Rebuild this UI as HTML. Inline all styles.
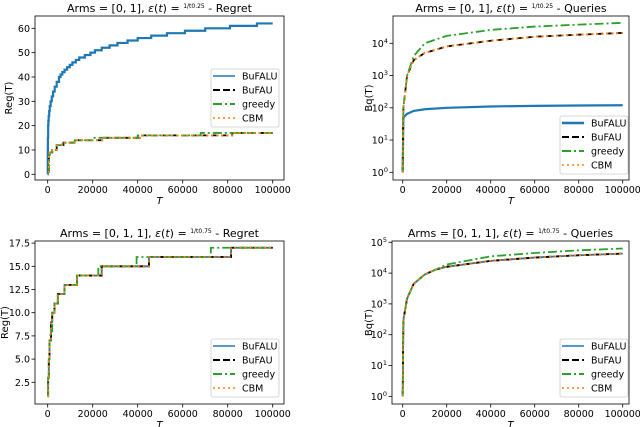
<!DOCTYPE html>
<html><head><meta charset="utf-8"><style>
html,body{margin:0;padding:0;background:#fff}
svg{display:block;font-family:"DejaVu Sans","Liberation Sans",sans-serif}
</style></head><body>
<svg id="fig" width="640" height="427" viewBox="0 0 640 427" xmlns="http://www.w3.org/2000/svg"></svg>
<script>
// ---- Data ----
// Chart 1: Arms=[0,1], regret
const c1_T_bufalu = [0,30,80,200,300,450,650,900,1300,1800,2400,3100,4000,5000,5700,6500,7500,8600,9800,11000,12500,14000,16500,19000,21000,24000,27500,31000,35500,40000,46000,53000,61000,70000,81000,93000,100000];
const c1_bufalu   = [0,10,15,20,22,24,26,28,30,32,34,36,38,40,41,42,43,44,45,46,47,48,49,50,51,52,53,54,55,56,57,58,59,60,61,62,62];
const c1_T_other  = [0,500,1000,2000,4000,7000,13000,25000,42000,82000,100000];
const c1_other    = [1,8,9,10,12,13,14,15,16,17,17];
const c1_T_greedy = [0,500,1000,2000,4000,6500,12000,20000,40000,68000,100000];
const c1_greedy   = [1,8,9,10,12,13,14,15,16,17,17];
// Chart 2: Arms=[0,1], queries (log)
const c2_T        = [0,300,2000,5000,10000,20000,40000,60000,80000,100000];
const c2_bufalu   = [1,50,65,80,90,100,110,115,118,120];
const c2_bufau    = [1,100,1000,3000,5000,8000,12000,16000,18500,21000];
const c2_greedy   = [1,100,1000,4000,10000,17000,26000,33000,38000,43000];
// Chart 3: Arms=[0,1,1], regret
const c3_T_other  = [0,200,500,800,1500,2000,3000,4500,7500,13000,24000,45000,81500,100000];
const c3_other    = [1,3,5,7,9,10,11,12,13,14,15,16,17,17];
const c3_T_greedy = [0,200,500,800,1200,2000,3000,4500,7500,13000,22500,39500,72500,100000];
const c3_greedy   = [1,3,5,7,8,10,11,12,13,14,15,16,17,17];
// Chart 4: Arms=[0,1,1], queries (log)
const c4_T        = [0,300,2000,5000,10000,15000,20000,40000,60000,80000,100000];
const c4_bufau    = [1,300,1500,4500,9000,13000,16000,25000,32000,38000,43000];
const c4_greedy   = [1,300,1500,4500,9000,13000,19000,35000,45000,55000,63000];
const xTicks = [0,20000,40000,60000,80000,100000];

const NS="http://www.w3.org/2000/svg";
const fig=document.getElementById('fig');
function mk(tag,attrs,parent){const e=document.createElementNS(NS,tag);for(const k in attrs)e.setAttribute(k,attrs[k]);(parent||fig).appendChild(e);return e;}
const COL={bufalu:'#1f77b4',bufau:'#000',greedy:'#2ca02c',cbm:'#ff7f0e'};
const DASH={bufalu:'',bufau:'7,3',greedy:'9,3,2,3',cbm:'2,3'};

function chart(c){
  const g=mk('g',{});
  
  
  const xs=v=>c.x0+(v/100000)*(c.x1-c.x0);
  const ys=c.log?(v=>c.yb-Math.log10(v)*c.dec):(v=>c.yb-(v-c.ymin)*c.ppu);
  xTicks.forEach(t=>{const x=xs(t);mk('line',{x1:x,x2:x,y1:c.bottom,y2:c.bottom+3.5,stroke:'#000','stroke-width':0.8},g);
    const tx=mk('text',{x:x,y:c.bottom+13,'font-size':9.5,'text-anchor':'middle'},g);tx.textContent=t;
    });
  c.yTicks.forEach(t=>{const y=ys(t);mk('line',{x1:c.left-3.5,x2:c.left,y1:y,y2:y,stroke:'#000','stroke-width':0.8},g);
    const tx=mk('text',{x:c.left-5,y:y+3.5,'font-size':9.5,'text-anchor':'end'},g);
    if(c.log){tx.textContent='10';const s=mk('tspan',{'font-size':6.5,dy:-4},tx);s.textContent=Math.round(Math.log10(t));}
    else tx.textContent=c.fmt?t.toFixed(1):t;
    });
  c.series.forEach(s=>{
    let d='';
    for(let i=0;i<s.T.length;i++){const x=xs(s.T[i]),y=ys(s.v[i]);
      if(i==0)d+='M'+x+','+y;else if(c.step){d+='H'+x+'V'+y;}else d+='L'+x+','+y;}
    const p=mk('path',{d:d,fill:'none',stroke:COL[s.k],'stroke-width':s.w||1.8,'stroke-dasharray':DASH[s.k]},g);
    
  });
  const f=mk('rect',{x:c.left,y:c.top,width:c.right-c.left,height:c.bottom-c.top,fill:'none',stroke:'#000','stroke-width':0.8},g);
  
  const tt=mk('text',{x:(c.left+c.right)/2,y:c.top-4,'font-size':11,'text-anchor':'middle'},g);
  
  tt.textContent=c.title1+' ';
  const eps=mk('tspan',{'font-style':'italic'},tt);eps.textContent='ε';
  const r=mk('tspan',{},tt);r.textContent='(';const tv=mk('tspan',{'font-style':'italic'},tt);tv.textContent='t';
  const r2=mk('tspan',{},tt);r2.textContent=') = ';
  const fr=mk('tspan',{'font-size':6,dy:-4},tt);fr.textContent='1/t'+c.pow;
  const r3=mk('tspan',{dy:4},tt);r3.textContent=' - '+c.title2;
  const xl=mk('text',{x:(c.left+c.right)/2,y:c.bottom+24,'font-size':10,'font-style':'italic','text-anchor':'middle'},g);
  xl.textContent='T';
  const yl=mk('text',{x:0,y:0,'font-size':10,'text-anchor':'middle',transform:`translate(${c.ylx},${(c.top+c.bottom)/2}) rotate(-90)`},g);
  yl.textContent=c.ylab;
  const lg=mk('g',{},g);
  mk('rect',{x:c.lx,y:c.ly,width:68,height:58,rx:2,fill:'#fff',stroke:'#ccc','stroke-width':0.8},lg);
  const names=[['bufalu','BuFALU'],['bufau','BuFAU'],['greedy','greedy'],['cbm','CBM']];
  names.forEach((n,i)=>{const y=c.ly+7+i*14;
    const ln=mk('line',{x1:c.lx+2,x2:c.lx+24,y1:y,y2:y,stroke:COL[n[0]],'stroke-width':c.lw[i],'stroke-dasharray':DASH[n[0]]},lg);
    
    const t=mk('text',{x:c.lx+31,y:y+3.5,'font-size':9.5},lg);t.textContent=n[1];
    });
}

chart({name:'chart-regret-01',left:35,right:284,top:16,bottom:180,x0:47.7,x1:272.7,yb:174.3,ymin:0,ppu:2.433,
  yTicks:[0,10,20,30,40,50,60],step:true,title1:'Arms = [0, 1],',pow:'0.25',title2:'Regret',ylab:'Reg(T)',ylx:12,
  lx:211,ly:69,lw:[1.5,2,2,1.5],
  series:[{k:'bufalu',T:c1_T_bufalu,v:c1_bufalu,w:2.2},{k:'bufau',T:c1_T_other,v:c1_other},{k:'greedy',T:c1_T_greedy,v:c1_greedy},{k:'cbm',T:c1_T_other,v:c1_other}]});
chart({name:'chart-queries-01',left:393,right:629,top:16,bottom:180,x0:402.7,x1:622.7,yb:172.3,dec:32.25,log:true,
  yTicks:[1,10,100,1000,10000],title1:'Arms = [0, 1],',pow:'0.25',title2:'Queries',ylab:'Bq(T)',ylx:372,
  lx:560,ly:116,lw:[2.5,2,2,1.5],
  series:[{k:'bufalu',T:c2_T,v:c2_bufalu,w:2.2},{k:'bufau',T:c2_T,v:c2_bufau},{k:'greedy',T:c2_T,v:c2_greedy},{k:'cbm',T:c2_T,v:c2_bufau}]});
chart({name:'chart-regret-011',left:35,right:284,top:241,bottom:404,x0:47.7,x1:272.7,yb:382.3,ymin:2.5,ppu:9.28,fmt:true,
  yTicks:[2.5,5,7.5,10,12.5,15,17.5],step:true,title1:'Arms = [0, 1, 1],',pow:'0.75',title2:'Regret',ylx:8,ylab:'Reg(T)',
  lx:211,ly:339,lw:[1.5,2,2,1.5],
  series:[{k:'bufalu',T:c3_T_other,v:c3_other},{k:'bufau',T:c3_T_other,v:c3_other},{k:'greedy',T:c3_T_greedy,v:c3_greedy},{k:'cbm',T:c3_T_other,v:c3_other}]});
chart({name:'chart-queries-011',left:392,right:629,top:241,bottom:404,x0:402.7,x1:622.7,yb:396.3,dec:30.8,log:true,
  yTicks:[1,10,100,1000,10000,100000],title1:'Arms = [0, 1, 1],',pow:'0.75',title2:'Queries',ylab:'Bq(T)',ylx:372,
  lx:560,ly:339,lw:[1.5,2,2,1.5],
  series:[{k:'bufalu',T:c4_T,v:c4_bufau},{k:'bufau',T:c4_T,v:c4_bufau},{k:'greedy',T:c4_T,v:c4_greedy},{k:'cbm',T:c4_T,v:c4_bufau}]});
</script>
</body></html>
